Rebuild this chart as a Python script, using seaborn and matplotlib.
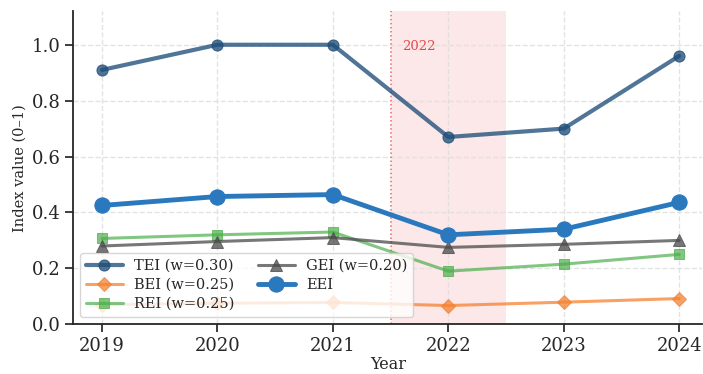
import numpy as np
import pandas as pd
import matplotlib
matplotlib.use("Agg")
import matplotlib.pyplot as plt
import seaborn as sns

years = [2019, 2020, 2021, 2022, 2023, 2024]
tei = [0.91, 1.00, 1.00, 0.67, 0.70, 0.96]
bei = [0.07, 0.075, 0.078, 0.067, 0.079, 0.092]
rei = [0.307, 0.32, 0.33, 0.19, 0.215, 0.25]
gei = [0.28, 0.296, 0.31, 0.275, 0.286, 0.30]
eei = [0.425, 0.457, 0.464, 0.32, 0.34, 0.436]

sns.set_theme(style="ticks")
plt.rcParams["font.family"] = ["DejaVu Serif"]

fig, ax = plt.subplots(figsize=(7.03, 3.74), dpi=100)

ax.axvspan(2021.5, 2022.5, color="#f8b4b4", alpha=0.3, lw=0, zorder=0)
ax.axvline(2021.5, color="#e8474b", ls=":", lw=1.1, alpha=0.8, zorder=1)
ax.text(2021.6, 0.995, "2022", color="#e8474b", fontsize=9.5, ha="left", va="center")

series = [
    ("TEI (w=0.30)", tei, "#1f4e79", "o", 8, 3, 0.78),
    ("BEI (w=0.25)", bei, "#f58231", "D", 7.5, 2.2, 0.75),
    ("REI (w=0.25)", rei, "#4cae4c", "s", 7.5, 2.2, 0.7),
    ("GEI (w=0.20)", gei, "#4a4a4a", "^", 8, 2.2, 0.75),
    ("EEI", eei, "#2a78bd", "o", 11, 3.5, 1.0),
]

for label, vals, color, marker, ms, lw, alpha in series:
    df = pd.DataFrame({"Year": years, "v": vals})
    sns.lineplot(data=df, x="Year", y="v", ax=ax, color=color, marker=marker,
                 markersize=ms, linewidth=lw, alpha=alpha, label=label,
                 markeredgecolor=color, zorder=3)

ax.set_xlim(2018.75, 2024.2)
ax.set_ylim(0, 1.12)
ax.set_xticks(years)
ax.set_yticks([0.0, 0.2, 0.4, 0.6, 0.8, 1.0])
ax.tick_params(labelsize=13, pad=3)
ax.set_xlabel("Year", fontsize=11.5, labelpad=1)
ax.set_ylabel("Index value (0\u20131)", fontsize=10.5)
ax.grid(True, ls="--", color="#dddddd", lw=1, alpha=0.8)
sns.despine(ax=ax)
ax.spines["left"].set_linewidth(1.3)
ax.spines["bottom"].set_linewidth(1.3)

ax.legend(ncol=2, loc="lower left", fontsize=10.5, frameon=True,
          bbox_to_anchor=(0.0, 0.0), columnspacing=1.6, handlelength=2.5,
          labelspacing=0.35)

fig.subplots_adjust(left=0.104, right=0.999, top=0.97, bottom=0.133)
fig.savefig("out.png", dpi=100)
